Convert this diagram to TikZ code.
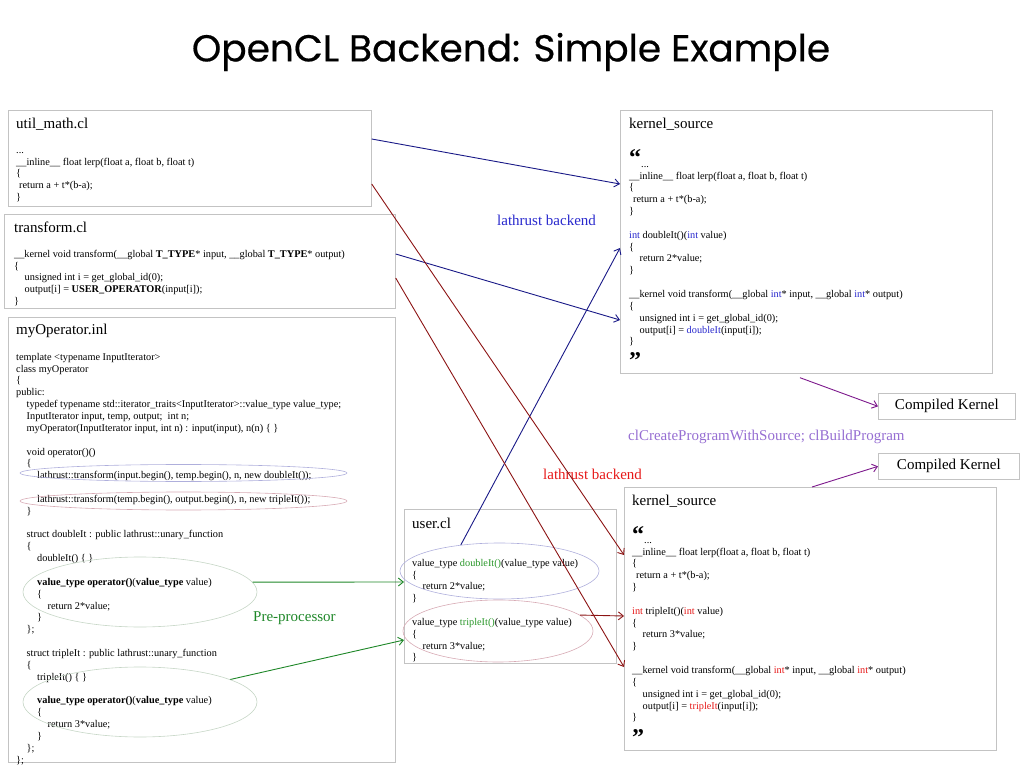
\documentclass[tikz,border=0pt]{standalone}
\usepackage{fontspec}
\setmainfont{Liberation Serif}
\newfontfamily\titlefont[FakeBold=0.5]{Poppins}
\usepackage{tikz}
\usetikzlibrary{arrows.meta,calc,shapes.geometric}

\definecolor{boxgray}{RGB}{195,195,195}
\definecolor{navyline}{RGB}{25,25,135}
\definecolor{redline}{RGB}{140,20,20}
\definecolor{greenline}{RGB}{30,135,40}
\definecolor{purpleline}{RGB}{125,25,140}
\definecolor{textblue}{RGB}{40,40,205}
\definecolor{textred}{RGB}{230,25,25}
\definecolor{textgreen}{RGB}{40,150,40}
\definecolor{textlav}{RGB}{150,110,210}
\definecolor{elllav}{RGB}{175,175,220}
\definecolor{ellpink}{RGB}{215,170,180}
\definecolor{ellgreen}{RGB}{198,214,198}

\newcommand{\codetab}{\hspace*{10.5pt}}
\newcommand{\kwblue}[1]{\textcolor{textblue}{#1}}
\newcommand{\kwred}[1]{\textcolor{textred}{#1}}
\newcommand{\kwgreen}[1]{\textcolor{textgreen}{#1}}

\begin{document}
\begin{tikzpicture}[x=1pt,y=-1pt,
  filebox/.style={rectangle,draw=boxgray,line width=0.7pt,anchor=north west,inner sep=0pt},
  boxtitle/.style={anchor=base west,inner sep=0pt,font=\fontsize{15}{18}\selectfont},
  code/.style={anchor=north west,align=left,inner sep=0pt,font=\fontsize{10.3}{11.85}\selectfont},
  quotemark/.style={anchor=base west,inner sep=0pt,font=\fontsize{24}{24}\selectfont\bfseries},
  mark/.style={ellipse,draw=#1,line width=0.6pt,inner sep=0pt},
  note/.style={anchor=base west,inner sep=0pt,font=\fontsize{15}{18}\selectfont},
  conn/.style={-{Straight Barb[length=5pt,width=8pt]},line width=0.9pt}
]
\useasboundingbox (0,0) rectangle (1023,767);

\node[font=\titlefont\fontsize{37.5}{42}\selectfont] (title) at (511,52) {OpenCL Backend: Simple Example};

% source files
\node[filebox,minimum width=363pt,minimum height=96pt] (utilmath) at (8,110) {};
\node[boxtitle] (utilmath title) at (16,129) {util\_math.cl};
\node[code] (utilmath code) at (16,144.7) {\strut...\\
\_\_inline\_\_ float lerp(float a, float b, float t)\\
\{\\
\hspace*{3pt}return a + t*(b-a);\\
\}};

\node[filebox,minimum width=391pt,minimum height=94pt] (transform) at (4,214) {};
\node[boxtitle] (transform title) at (14,233) {transform.cl};
\node[code] (transform code) at (14,248.7) {\strut\_\_kernel void transform(\_\_global \textbf{T\_TYPE}* input, \_\_global \textbf{T\_TYPE}* output)\\
\{\\
\codetab unsigned int i = get\_global\_id(0);\\
\codetab output[i] = \textbf{USER\_OPERATOR}(input[i]);\\
\}};

\node[filebox,minimum width=387pt,minimum height=445pt] (myop) at (8,317) {};
\node[boxtitle] (myop title) at (16,335) {myOperator.inl};
\node[code] (myop code) at (16,351.7) {\strut template <typename InputIterator>\\
class myOperator\\
\{\\
public:\\
\codetab typedef typename std::iterator\_traits<InputIterator>::value\_type value\_type;\\
\codetab InputIterator input, temp, output;\ \ int n;\\
\codetab myOperator(InputIterator input, int n) : input(input), n(n) \{ \}\\[11.85pt]
\codetab void operator()()\\
\codetab \{\\
\codetab\codetab lathrust::transform(input.begin(), temp.begin(), n, new doubleIt());\\[11.85pt]
\codetab\codetab lathrust::transform(temp.begin(), output.begin(), n, new tripleIt());\\
\codetab \}\\[11.85pt]
\codetab struct doubleIt : public lathrust::unary\_function\\
\codetab \{\\
\codetab\codetab doubleIt() \{ \}\\[11.85pt]
\codetab\codetab \textbf{value\_type operator()}(\textbf{value\_type} value)\\
\codetab\codetab \{\\
\codetab\codetab\codetab return 2*value;\\
\codetab\codetab \}\\
\codetab \};\\[11.85pt]
\codetab struct tripleIt : public lathrust::unary\_function\\
\codetab \{\\
\codetab\codetab tripleIt() \{ \}\\[11.85pt]
\codetab\codetab \textbf{value\_type operator()}(\textbf{value\_type} value)\\
\codetab\codetab \{\\
\codetab\codetab\codetab return 3*value;\\
\codetab\codetab \}\\
\codetab \};\\
\};};

\node[filebox,minimum width=212pt,minimum height=154pt] (user) at (404,509) {};
\node[boxtitle] (user title) at (412,528) {user.cl};
\node[code] (user code) at (412,557.7) {\strut value\_type \kwgreen{doubleIt()}(value\_type value)\\
\{\\
\codetab return 2*value;\\
\}\\[11.85pt]
value\_type \kwgreen{tripleIt()}(value\_type value)\\
\{\\
\codetab return 3*value;\\
\}};

% generated kernels
\node[filebox,minimum width=372pt,minimum height=263pt] (ksrc1) at (620,110) {};
\node[boxtitle] (ksrc1 title) at (629,129) {kernel\_source};
\node[quotemark] (ksrc1 open) at (629,166) {“};
\node[code] (ksrc1 code) at (629,158.7) {\strut\hspace*{12pt}...\\
\_\_inline\_\_ float lerp(float a, float b, float t)\\
\{\\
\hspace*{4pt}return a + t*(b-a);\\
\}\\[11.85pt]
\kwblue{int} doubleIt()(\kwblue{int} value)\\
\{\\
\codetab return 2*value;\\
\}\\[11.85pt]
\_\_kernel void transform(\_\_global \kwblue{int}* input, \_\_global \kwblue{int}* output)\\
\{\\
\codetab unsigned int i = get\_global\_id(0);\\
\codetab output[i] = \kwblue{doubleIt}(input[i]);\\
\}};
\node[quotemark] (ksrc1 close) at (629,369) {”};

\node[filebox,minimum width=372pt,minimum height=263pt] (ksrc2) at (624,487) {};
\node[boxtitle] (ksrc2 title) at (632,505) {kernel\_source};
\node[quotemark] (ksrc2 open) at (632,542) {“};
\node[code] (ksrc2 code) at (632,534.7) {\strut\hspace*{12pt}...\\
\_\_inline\_\_ float lerp(float a, float b, float t)\\
\{\\
\hspace*{4pt}return a + t*(b-a);\\
\}\\[11.85pt]
\kwred{int} tripleIt()(\kwred{int} value)\\
\{\\
\codetab return 3*value;\\
\}\\[11.85pt]
\_\_kernel void transform(\_\_global \kwred{int}* input, \_\_global \kwred{int}* output)\\
\{\\
\codetab unsigned int i = get\_global\_id(0);\\
\codetab output[i] = \kwred{tripleIt}(input[i]);\\
\}};
\node[quotemark] (ksrc2 close) at (632,745) {”};

\node[filebox,minimum width=137pt,minimum height=26pt,font=\fontsize{15}{18}\selectfont] (compiled1) at (878,393) {Compiled Kernel};
\node[filebox,minimum width=141pt,minimum height=26pt,font=\fontsize{15}{18}\selectfont] (compiled2) at (878,453) {Compiled Kernel};

% marked regions
\node[mark=elllav,minimum width=327pt,minimum height=17pt] (ellDouble) at (183.5,473) {};
\node[mark=ellpink,minimum width=327pt,minimum height=18pt] (ellTriple) at (183.5,501) {};
\node[mark=ellgreen,minimum width=234pt,minimum height=70pt] (ellDoubleOp) at (140,592) {};
\node[mark=ellgreen,minimum width=234pt,minimum height=70pt] (ellTripleOp) at (140,702) {};
\node[mark=elllav,minimum width=199pt,minimum height=56pt] (ellUserDouble) at (499.5,571) {};
\node[mark=ellpink,minimum width=190pt,minimum height=62pt] (ellUserTriple) at (498,631) {};

% labels
\node[note,text=textblue] (lbl blue) at (497,226) {lathrust backend};
\node[note,text=textred] (lbl red) at (543,479) {lathrust backend};
\node[note,text=greenline] (lbl pre) at (253,621) {Pre-processor};
\node[note,text=textlav] (lbl build) at (628,440) {clCreateProgramWithSource; clBuildProgram};

% connector ends
\coordinate (um-blue) at ($(utilmath.north east)+(0,29)$);
\coordinate (um-red) at ($(utilmath.north east)+(0,74)$);
\coordinate (tf-blue) at ($(transform.north east)+(0,40)$);
\coordinate (tf-red) at ($(transform.north east)+(0,64)$);
\coordinate (k1-lerp) at ($(ksrc1.north west)+(0,74)$);
\coordinate (k1-int) at ($(ksrc1.north west)+(0,138)$);
\coordinate (k1-kern) at ($(ksrc1.north west)+(0,210)$);
\coordinate (k1-out) at ($(ksrc1.south west)+(180,4)$);
\coordinate (k2-lerp) at ($(ksrc2.north west)+(0,68)$);
\coordinate (k2-int) at ($(ksrc2.north west)+(0,129)$);
\coordinate (k2-kern) at ($(ksrc2.north west)+(0,180)$);
\coordinate (k2-out) at ($(ksrc2.north west)+(188,0)$);
\coordinate (user-in1) at ($(user.north west)+(0,73)$);
\coordinate (user-in2) at ($(user.north west)+(0,131)$);

% connectors
\draw[conn,navyline] (um-blue) -- (k1-lerp);
\draw[conn,navyline] (tf-blue) -- (k1-kern);
\draw[conn,navyline] (ellUserDouble.146) -- (k1-int);
\draw[conn,redline] (um-red) -- (k2-lerp);
\draw[conn,redline] (tf-red) -- (k2-kern);
\draw[conn,redline] (ellUserTriple.11) -- (k2-int);
\draw[conn,greenline] (ellDoubleOp.5) -- (user-in1);
\draw[conn,greenline] (ellTripleOp.14) -- (user-in2);
\draw[conn,purpleline] (k1-out) -- (compiled1.west);
\draw[conn,purpleline] (k2-out) -- (compiled2.west);

\end{tikzpicture}
\end{document}
